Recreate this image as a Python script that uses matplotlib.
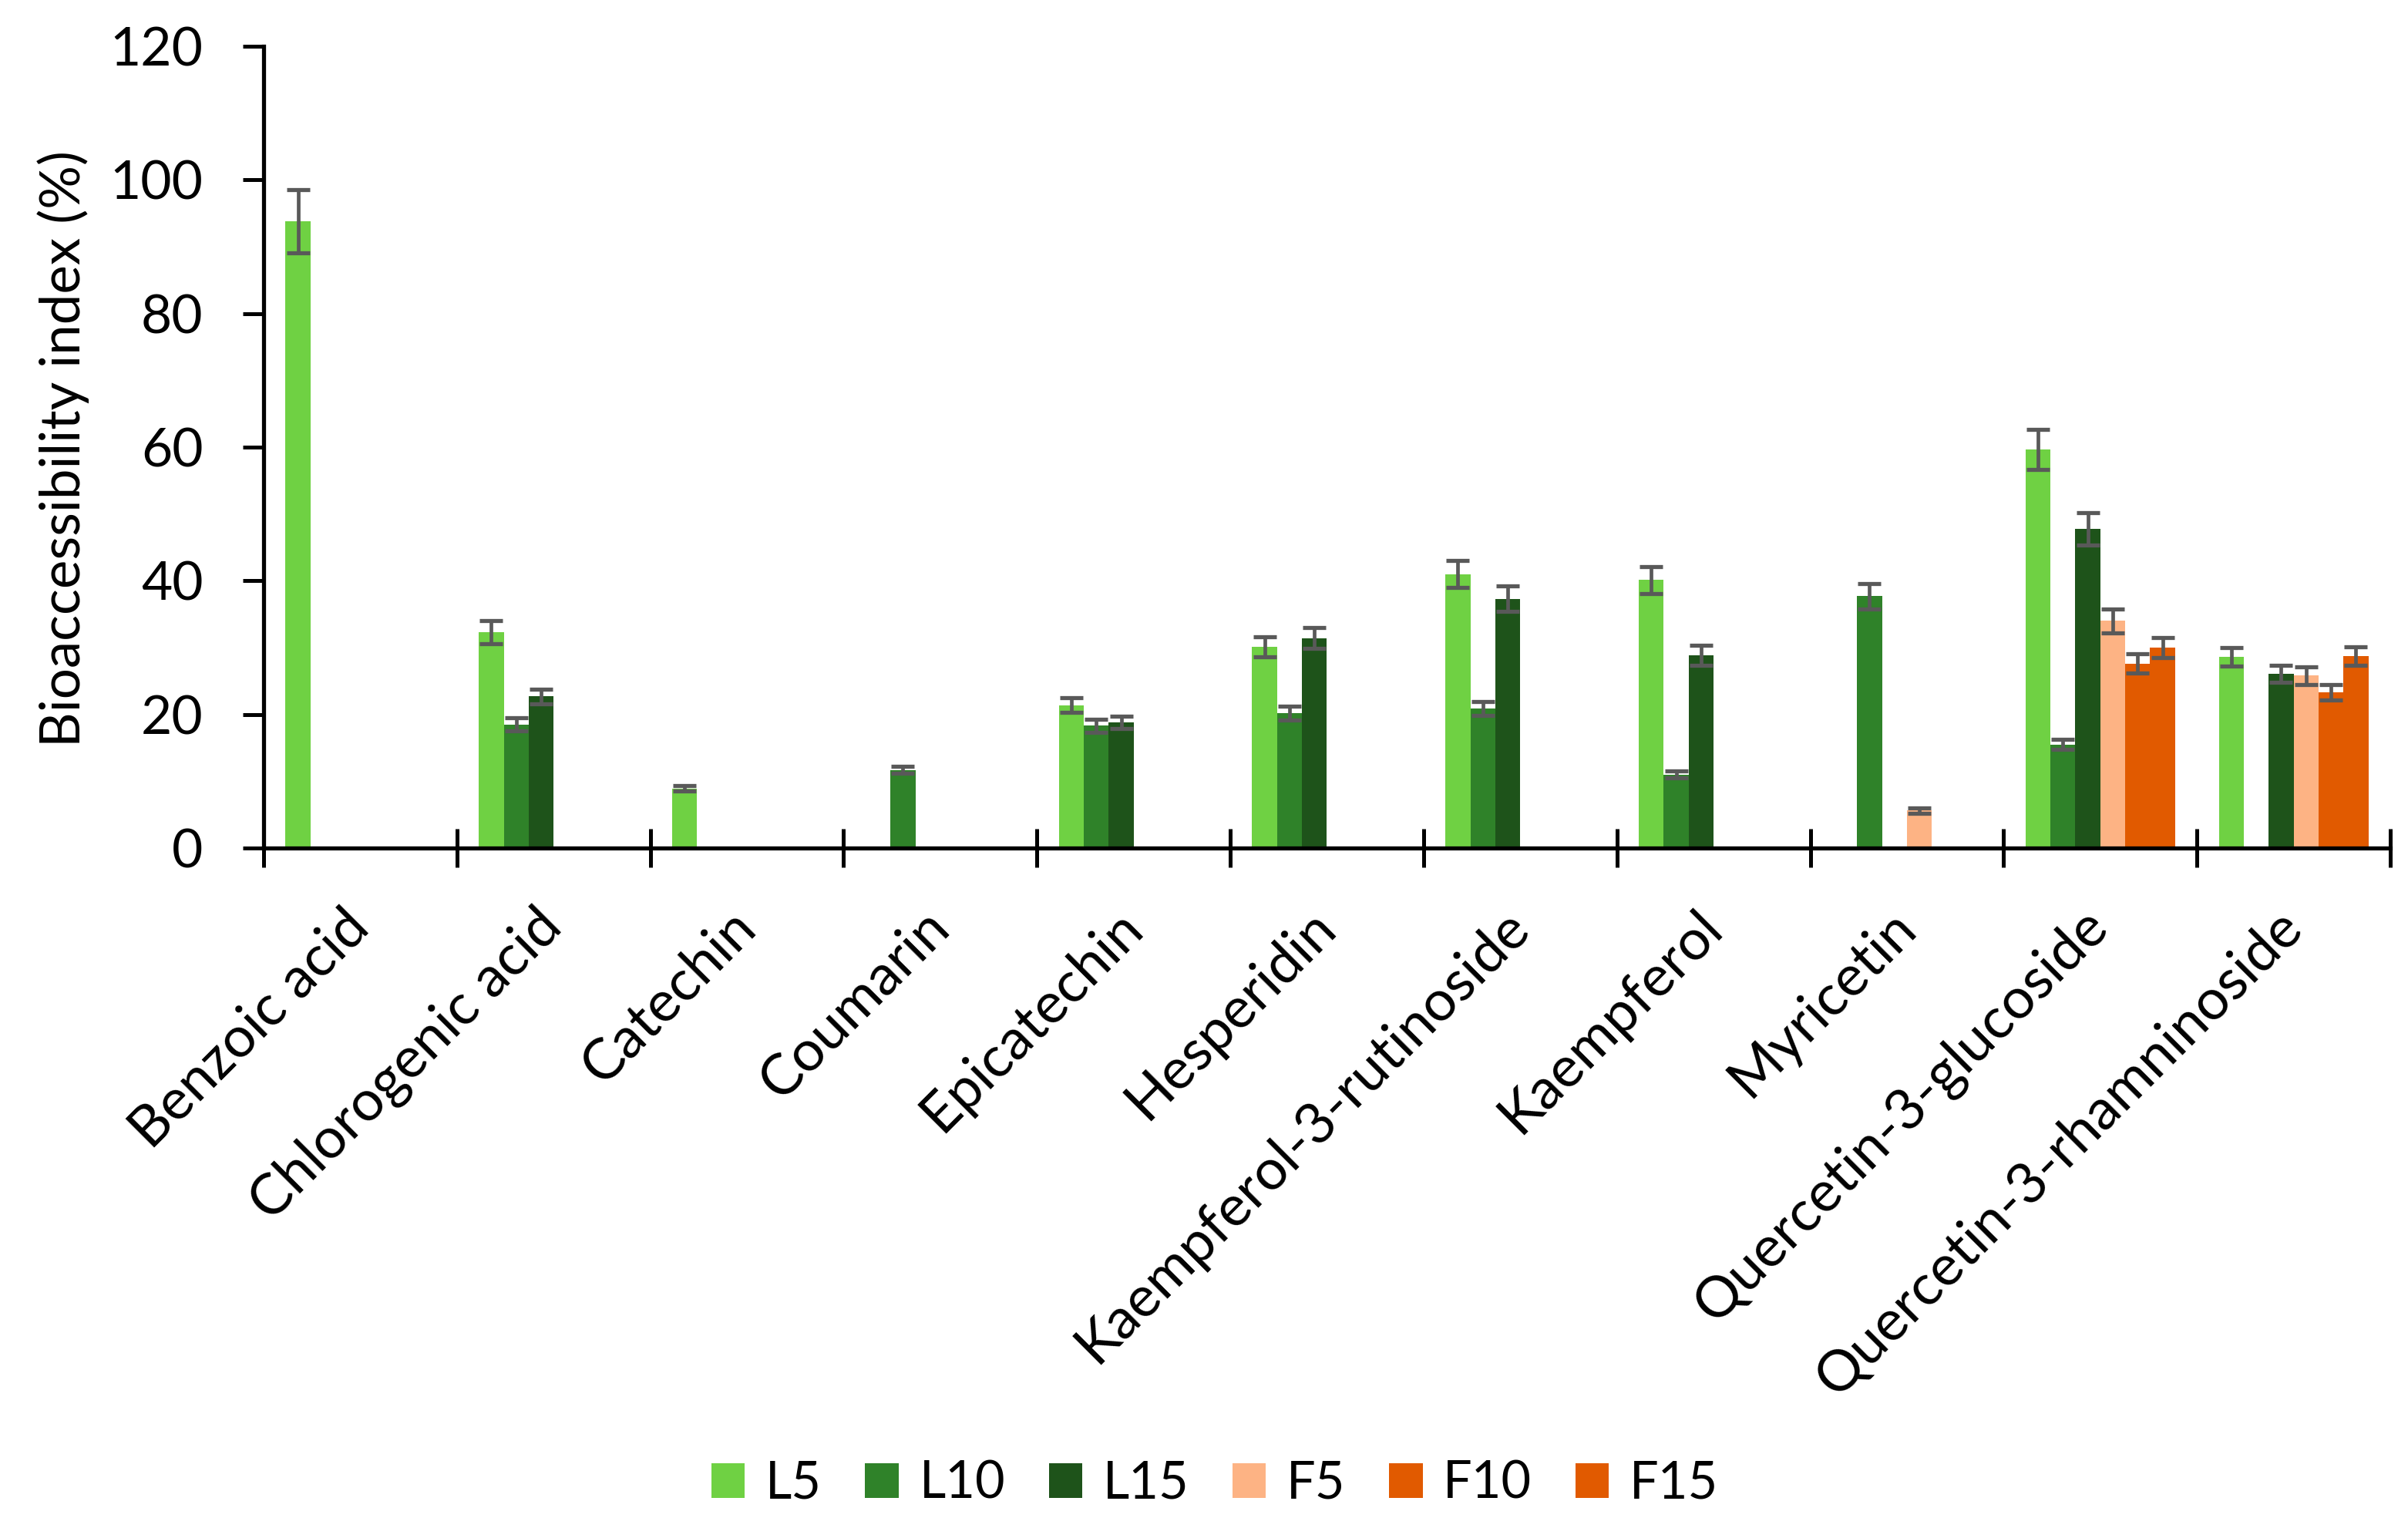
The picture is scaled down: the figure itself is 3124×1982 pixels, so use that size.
import matplotlib
matplotlib.use("Agg")
import matplotlib.pyplot as plt
import numpy as np

categories = ["Benzoic acid", "Chlorogenic acid", "Catechin", "Coumarin", "Epicatechin",
              "Hesperidin", "Kaempferol-3-rutinoside", "Kaempferol", "Myricetin",
              "Quercetin-3-glucoside", "Quercetin-3-rhamninoside"]
series = ["L5", "L10", "L15", "F5", "F10", "F15"]
nan = np.nan
L5  = [93.8, 32.3, 8.9, nan, 21.4, 30.1, 41.0, 40.1, nan, 59.6, 28.6]
L10 = [nan, 18.5, nan, 11.7, 18.3, 20.2, 20.9, 11.0, 37.7, 15.5, nan]
L15 = [nan, 22.7, nan, nan, 18.8, 31.4, 37.3, 28.8, nan, 47.8, 26.1]
F5  = [nan, nan, nan, nan, nan, nan, nan, nan, 5.6, 34.0, 25.8]
F10 = [nan, nan, nan, nan, nan, nan, nan, nan, nan, 27.6, 23.3]
F15 = [nan, nan, nan, nan, nan, nan, nan, nan, nan, 30.0, 28.7]
L5_err  = [4.7, 1.7, 0.4, nan, 1.05, 1.5, 2.05, 2.0, nan, 3.0, 1.4]
L10_err = [nan, 1.0, nan, 0.5, 1.0, 1.0, 1.05, 0.5, 1.9, 0.75, nan]
L15_err = [nan, 1.1, nan, nan, 0.9, 1.55, 1.9, 1.5, nan, 2.4, 1.3]
F5_err  = [nan, nan, nan, nan, nan, nan, nan, nan, 0.4, 1.75, 1.3]
F10_err = [nan, nan, nan, nan, nan, nan, nan, nan, nan, 1.45, 1.15]
F15_err = [nan, nan, nan, nan, nan, nan, nan, nan, nan, 1.5, 1.4]

values = [L5, L10, L15, F5, F10, F15]
errors = [L5_err, L10_err, L15_err, F5_err, F10_err, F15_err]
colors = ["#6fd143", "#2f8229", "#1e531a", "#fdb384", "#e15a00", "#e15a00"]

plt.rcParams['font.family'] = ['Lato', 'DejaVu Sans']

fig = plt.figure(figsize=(31.24, 19.82), dpi=100)
ax = fig.add_axes([342/3124, 1-1100/1982, (3101-342)/3124, (1100-60)/1982])

n = len(categories)
bw = 0.129
x = np.arange(n) + 0.5
for k, (vals, errs, col, name) in enumerate(zip(values, errors, colors, series)):
    pos = x + (k - 2.5) * bw
    v = np.array(vals, dtype=float)
    e = np.array(errs, dtype=float)
    ax.bar(pos, np.nan_to_num(v), width=bw, color=col, label=name, linewidth=0)
    m = ~np.isnan(v)
    ax.errorbar(pos[m], v[m], yerr=e[m], fmt='none', ecolor="#595959",
                elinewidth=3.4, capsize=11, capthick=3.8)

ax.set_xlim(0, n)
ax.set_ylim(0, 120)
ax.set_yticks(np.arange(0, 121, 20))
ax.set_xticks(x)
ax.set_xticklabels(categories, rotation=45, ha='right', va='center', rotation_mode='anchor')
ax.set_xticks(np.arange(0, n + 1), minor=True)
ax.tick_params(axis='x', which='major', length=0, pad=66, labelsize=53)
ax.tick_params(axis='x', which='minor', direction='inout', length=36, width=3.6, color='black')
ax.tick_params(axis='y', which='major', direction='out', length=19.4, width=3.6, pad=37, labelsize=50)
for s in ['top', 'right']:
    ax.spines[s].set_visible(False)
for s in ['left', 'bottom']:
    ax.spines[s].set_linewidth(3.8)
    ax.spines[s].set_color('black')

fig.text(82/3124, 1-582/1982, "Bioaccessibility index (%)", rotation=90,
         ha='center', va='center', fontsize=51)

leg = fig.legend(*ax.get_legend_handles_labels(), loc='center', ncol=6,
                 bbox_to_anchor=(1576/3124, 1-1925/1982), frameon=False,
                 fontsize=48, handlelength=0.65, handleheight=0.65,
                 handletextpad=0.4, columnspacing=0.85)

fig.savefig("out.png", dpi=100)
